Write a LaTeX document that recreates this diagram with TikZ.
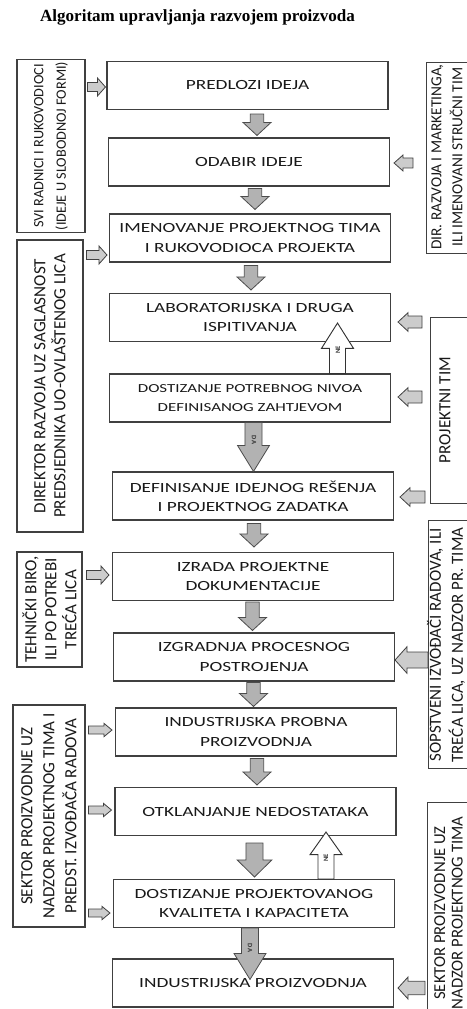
\documentclass[tikz,border=0pt]{standalone}
\usepackage{fontspec}
\setmainfont{Carlito}
\newfontfamily\boxfont[FakeStretch=1.38]{Carlito}
\newfontfamily\titlefont{Liberation Serif}
\usetikzlibrary{calc}

% block arrow: [style]{tail}{tip}{half shaft}{half head}{head length}
\newcommand\blockarr[6][]{%
  \coordinate (ta) at (#2);\coordinate (tb) at (#3);
  \coordinate (th) at ($(tb)!#6!(ta)$);
  \draw[#1]($(ta)!#4!90:(tb)$)--($(th)!#4!90:(tb)$)--($(th)!#5!90:(tb)$)--(tb)
    --($(th)!#5!-90:(tb)$)--($(th)!#4!-90:(tb)$)--($(ta)!#4!-90:(tb)$)--cycle;}

\tikzset{
  mbox/.style={draw=black!75,line width=.8pt,minimum width=210.75pt,minimum height=36pt,
    align=center,inner sep=2pt,text=black!90,font=\boxfont\fontsize{10.5}{14.3}\selectfont},
  lbox/.style={draw=black!75,line width=.8pt,rotate=90,align=center,inner sep=2pt,
    text=black!90,font=\fontsize{12.8}{15}\selectfont},
  rbox/.style={draw=black!75,line width=.8pt,anchor=north west,minimum width=60pt,inner sep=0pt},
  rtext/.style={rotate=90,align=center,inner sep=0pt,text=black!90,font=\fontsize{12.8}{15.5}\selectfont},
  darr/.style={fill=gray!60,draw=black!70,line width=.6pt},
  sarr/.style={fill=gray!40,draw=black!75,line width=.6pt},
  narr/.style={fill=white,draw=black!80,line width=.7pt},
  tag/.style={inner sep=0pt,font=\fontsize{5}{5}\selectfont\bfseries,text=black!80}
}

\begin{document}
\begin{tikzpicture}[x=.75pt,y=-.75pt]
      \useasboundingbox (0,0) rectangle (467,1009);
      \clip (0,0) rectangle (467,1009);
      \node[font=\titlefont\bfseries\fontsize{12.8}{14}\selectfont] (title) at (197.5,17) {Algoritam upravljanja razvojem proizvoda};
      \node[mbox] (b1) at (247.5,85.5) {PREDLOZI IDEJA};
      \node[mbox] (b2) at (249,162) {ODABIR IDEJE};
      \node[mbox] (b3) at (250,238) {IMENOVANJE PROJEKTNOG TIMA\\I RUKOVODIOCA PROJEKTA};
      \node[mbox] (b4) at (250,317.5) {LABORATORIJSKA I DRUGA\\ISPITIVANJA};
      \node[mbox,font=\boxfont\fontsize{9.2}{14.3}\selectfont] (b5) at (250,398) {DOSTIZANJE POTREBNOG NIVOA\\DEFINISANOG ZAHTJEVOM};
      \node[mbox] (b6) at (253,496) {DEFINISANJE IDEJNOG REŠENJA\\I PROJEKTNOG ZADATKA};
      \node[mbox] (b7) at (253,576.5) {IZRADA PROJEKTNE\\DOKUMENTACIJE};
      \node[mbox] (b8) at (254,657) {IZGRADNJA PROCESNOG\\POSTROJENJA};
      \node[mbox] (b9) at (256,732) {INDUSTRIJSKA PROBNA\\PROIZVODNJA};
      \node[mbox] (b10) at (255.5,811.5) {OTKLANJANJE NEDOSTATAKA};
      \node[mbox] (b11) at (254,903.5) {DOSTIZANJE PROJEKTOVANOG\\KVALITETA I KAPACITETA};
      \node[mbox] (b12) at (253,983) {INDUSTRIJSKA PROIZVODNJA};
      \node[lbox,minimum width=129pt,minimum height=51pt,font=\fontsize{10.7}{17}\selectfont] (l1) at (51,146) {SVI RADNICI I RUKOVODIOCI\\(IDEJE U SLOBODNOJ FORMI)};
      \node[lbox,minimum width=219pt,minimum height=49.5pt] (l2) at (50,386) {DIREKTOR RAZVOJA UZ SAGLASNOST\\PREDSJEDNIKA UO-OVLAŠTENOG LICA};
      \node[lbox,minimum width=86.25pt,minimum height=48.75pt] (l3) at (49.5,609.5) {TEHNIČKI BIRO,\\ILI PO POTREBI\\TREĆA LICA};
      \node[lbox,minimum width=166.5pt,minimum height=54pt,font=\fontsize{12.8}{16.5}\selectfont] (l4) at (49,816) {SEKTOR PROIZVODNJE UZ\\NADZOR PROJEKTNOG TIMA I\\PREDST. IZVOĐAČA RADOVA};
      \node[rbox,minimum height=143.25pt] (r1) at (426,62) {};
      \node[rtext,font=\fontsize{11.5}{15.75}\selectfont] (r1t) at (447,157) {DIR. RAZVOJA I MARKETINGA,\\ILI IMENOVANI STRUČNI TIM};
      \node[rbox,minimum height=139.5pt] (r2) at (430,317) {};
      \node[rtext] (r2t) at (445,410) {PROJEKTNI TIM};
      \node[rbox,minimum height=186pt] (r3) at (428,520) {};
      \node[rtext,font=\fontsize{12.7}{16.5}\selectfont] (r3t) at (446,645) {SOPSTVENI IZVOĐAČI RADOVA, ILI\\TREĆA LICA, UZ NADZOR PR. TIMA};
      \node[rbox,minimum height=178.5pt] (r4) at (427,802) {};
      \node[rtext,font=\fontsize{12.5}{13}\selectfont] (r4t) at (448.5,913) {SEKTOR PROIZVODNJE UZ\\NADZOR PROJEKTNOG TIMA};
      \blockarr[darr]{$(b2.north |- b1.south)+(8,4)$}{$(b2.north)+(8,-2)$}{5pt}{10.5pt}{9.75pt}
      \blockarr[darr]{$(b3.north |- b2.south)+(5,2)$}{$(b3.north)+(5,-4)$}{5pt}{10.5pt}{9.75pt}
      \blockarr[darr]{$(b4.north |- b3.south)+(1,3)$}{$(b4.north)+(1,-3)$}{5pt}{10.5pt}{9.75pt}
      \blockarr[darr]{$(b6.north |- b5.south)+(.5,0)$}{$(b6.north)+(.5,0)$}{6.4pt}{12pt}{19.5pt}
      \blockarr[darr]{$(b7.north |- b6.south)+(1,3)$}{$(b7.north)+(1,-5)$}{5pt}{10.5pt}{9.75pt}
      \blockarr[darr]{$(b8.north |- b7.south)+(-1.5,1)$}{$(b8.north)+(-1.5,-2)$}{5pt}{10.5pt}{9.75pt}
      \blockarr[darr]{$(b9.north |- b8.south)+(-2.5,1)$}{$(b9.north)+(-2.5,-1)$}{5pt}{10.5pt}{9.75pt}
      \blockarr[darr]{$(b10.north |- b9.south)+(1.5,2)$}{$(b10.north)+(1.5,-2)$}{5pt}{10.5pt}{9.75pt}
      \blockarr[darr]{$(b11.north |- b10.south)+(.5,7)$}{$(b11.north)+(.5,-2)$}{6.4pt}{13pt}{12.75pt}
      \blockarr[darr]{$(b12.north |- b11.south)+(-3,0)$}{$(b12.north)+(-3,21)$}{6.4pt}{12pt}{19.5pt}
      \blockarr[narr]{$(b5.north)+(87.5,0)$}{$(b4.south)+(87.5,-19)$}{6pt}{12pt}{19pt}
      \blockarr[narr]{$(b11.north)+(72,0)$}{$(b10.south -| b11.north)+(72,-4)$}{6pt}{12pt}{17pt}
      \blockarr[sarr]{$(l1.south |- b1.west)+(2,1.5)$}{$(b1.west)+(-1,1.5)$}{3.4pt}{6.75pt}{6pt}
      \blockarr[sarr]{$(l2.south |- b3.west)+(3,17)$}{$(b3.west)+(-2,17)$}{3.4pt}{6.75pt}{6pt}
      \blockarr[sarr]{$(l3.south |- b7.west)+(4,-1.5)$}{$(b7.west)+(-3,-1.5)$}{3.4pt}{6.75pt}{6pt}
      \blockarr[sarr]{$(l4.south |- b9.west)+(3,-2)$}{$(b9.west)+(-3,-2)$}{3pt}{5pt}{6pt}
      \blockarr[sarr]{$(l4.south |- b10.west)+(3,-1.5)$}{$(b10.west)+(-3,-1.5)$}{3pt}{5pt}{6pt}
      \blockarr[sarr]{$(l4.south |- b11.west)+(3,9.5)$}{$(b11.west)+(-3,9.5)$}{3pt}{5pt}{6pt}
      \blockarr[sarr]{$(r1.west |- b2.east)+(-13,1)$}{$(b2.east)+(4,1)$}{3.75pt}{6pt}{6.75pt}
      \blockarr[sarr]{$(r2.west |- b4.east)+(-8,4.5)$}{$(b4.east)+(7,4.5)$}{4.5pt}{7pt}{7.5pt}
      \blockarr[sarr]{$(r2.west |- b5.east)+(-8,-1)$}{$(b5.east)+(7,-1)$}{4.5pt}{7pt}{7.5pt}
      \blockarr[sarr]{$(r2.west |- b6.east)+(-5,1)$}{$(b6.east)+(6,1)$}{4.5pt}{7pt}{7.5pt}
      \blockarr[sarr]{$(r3.west |- b8.east)+(0,3)$}{$(b8.east)+(0,3)$}{6pt}{10pt}{9pt}
      \blockarr[sarr]{$(r4.west |- b12.east)+(-2,5)$}{$(b12.east)+(4,5)$}{5pt}{8.25pt}{7.5pt}
      \node[tag,rotate=-90] (da1) at (254,440) {DA};
      \node[tag,rotate=-90] (da2) at (250,948) {DA};
      \node[tag,rotate=90] (ne1) at (338,350) {NE};
      \node[tag,rotate=90] (ne2) at (326,858) {NE};
    \end{tikzpicture}
\end{document}
